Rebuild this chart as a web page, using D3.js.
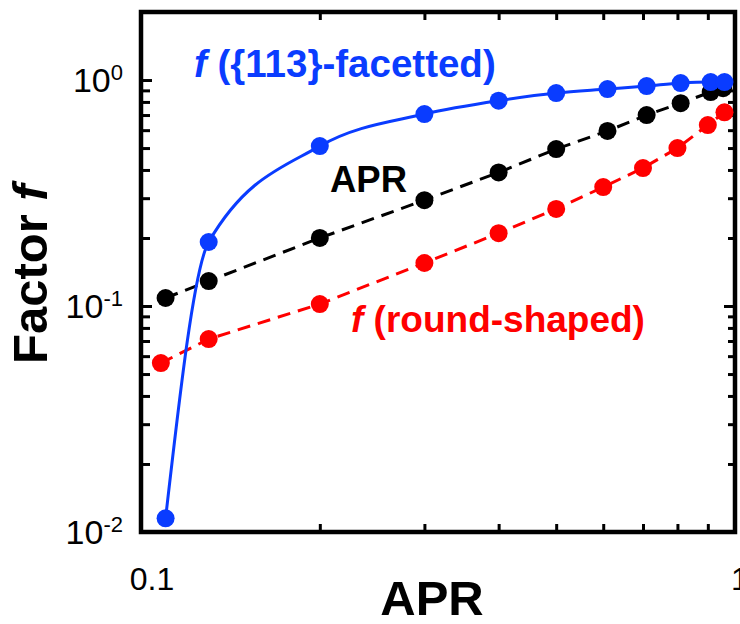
<!DOCTYPE html>
<html>
<head>
<meta charset="utf-8">
<script src="https://cdn.jsdelivr.net/npm/d3@7"></script>
<style>
  body { margin: 0; background: #fff; }
  svg { display: block; font-family: "Liberation Sans", Arial, sans-serif; }
</style>
</head>
<body>
<div id="chart"></div>
<script>
var width = 740, height = 624;

// APR values
const facettedX = [0.11, 0.13, 0.2, 0.3, 0.4, 0.5, 0.61, 0.71, 0.81, 0.91, 0.96];
const facettedY = [0.0115, 0.192, 0.51, 0.707, 0.81, 0.876, 0.912, 0.94, 0.97, 0.98, 0.98];

const aprX = [0.11, 0.13, 0.2, 0.3, 0.4, 0.5, 0.61, 0.71, 0.81, 0.91, 0.955];
const aprY = [0.1085, 0.129, 0.2, 0.294, 0.39, 0.495, 0.595, 0.70, 0.79, 0.885, 0.92];

const roundX = [0.108, 0.13, 0.2, 0.3, 0.4, 0.5, 0.6, 0.7, 0.8, 0.9, 0.96];
const roundY = [0.0559, 0.0714, 0.102, 0.155, 0.21, 0.269, 0.336, 0.408, 0.50, 0.632, 0.72];

const xTickLabels = [{v: 0.1, t: "0.1"}, {v: 1, t: "1"}];
const yTickLabels = [{v: 0.01, e: "-2"}, {v: 0.1, e: "-1"}, {v: 1, e: "0"}];

const blue = "#0a3cff", red = "#ff0000", black = "#000";

const x = d3.scaleLog().domain([0.1, 1]).range([141, 735]);
const y = d3.scaleLog().domain([0.01, 2]).range([532, 12]);

const svg = d3.select("#chart").append("svg")
    .attr("width", width)
    .attr("height", height);

// ticks, all pointing inward
var xMinor = d3.range(2, 10).map(function(d) { return d / 10; });
var yMajor = [0.01, 0.1, 1];
var yMinor = [];
[0.01, 0.1, 1].forEach(function(dec) {
  d3.range(2, 10).forEach(function(k) { if (k * dec <= 2) yMinor.push(k * dec); });
});

function ticks(axis, size) {
  return function(g) {
    g.call(axis.tickSize(size).tickFormat(""));
    g.select(".domain").remove();
    g.selectAll(".tick line").attr("stroke", black).attr("stroke-width", 3);
  };
}

svg.append("g").attr("transform", "translate(0,532)")
    .call(ticks(d3.axisBottom(x).tickValues(xMinor), -8));
svg.append("g").attr("transform", "translate(0,12)")
    .call(ticks(d3.axisTop(x).tickValues(xMinor), -8));
svg.append("g").attr("transform", "translate(141,0)")
    .call(ticks(d3.axisLeft(y).tickValues(yMajor), -11));
svg.append("g").attr("transform", "translate(141,0)")
    .call(ticks(d3.axisLeft(y).tickValues(yMinor), -9));
svg.append("g").attr("transform", "translate(735,0)")
    .call(ticks(d3.axisRight(y).tickValues(yMajor), -11));
svg.append("g").attr("transform", "translate(735,0)")
    .call(ticks(d3.axisRight(y).tickValues(yMinor), -7));

// frame
svg.append("rect")
    .attr("x", x(0.1)).attr("y", y(2))
    .attr("width", x(1) - x(0.1)).attr("height", y(0.01) - y(2))
    .attr("fill", "none")
    .attr("stroke", black)
    .attr("stroke-width", 4.5);

// tick labels
svg.selectAll(".xlab").data(xTickLabels).join("text")
    .attr("class", "xlab")
    .attr("x", function(d) { return d.v === 1 ? x(d.v) - 4 : x(d.v) + 11; })
    .attr("y", 590)
    .attr("text-anchor", function(d) { return d.v === 1 ? "start" : "middle"; })
    .attr("font-size", 32)
    .text(function(d) { return d.t; });

var yl = svg.selectAll(".ylab").data(yTickLabels).join("text")
    .attr("class", "ylab")
    .attr("x", 123)
    .attr("y", function(d) { return y(d.v) + 12; })
    .attr("text-anchor", "end")
    .attr("font-size", 34);
yl.append("tspan").text("10");
yl.append("tspan").attr("dy", -12).attr("font-size", 22).text(function(d) { return d.e; });

// axis titles
svg.append("text")
    .attr("x", 432).attr("y", 615)
    .attr("text-anchor", "middle")
    .attr("font-size", 49).attr("font-weight", "bold")
    .text("APR");

var yt = svg.append("text")
    .attr("transform", "translate(47,364) rotate(-90)")
    .attr("text-anchor", "start")
    .attr("font-size", 49).attr("font-weight", "bold");
yt.append("tspan").text("Factor ");
yt.append("tspan").attr("font-style", "italic").text("f");

// series
function series(xs, ys, color, dashed, curve) {
  var pts = xs.map(function(v, i) { return [v, ys[i]]; });
  var line = d3.line()
      .x(function(d) { return x(d[0]); })
      .y(function(d) { return y(d[1]); })
      .curve(curve);
  svg.append("path")
      .datum(pts)
      .attr("d", line)
      .attr("fill", "none")
      .attr("stroke", color)
      .attr("stroke-width", 3)
      .attr("stroke-dasharray", dashed ? "13,8" : null);
  svg.append("g").selectAll("circle")
      .data(pts)
      .join("circle")
      .attr("cx", function(d) { return x(d[0]); })
      .attr("cy", function(d) { return y(d[1]); })
      .attr("r", 9)
      .attr("fill", color);
}

series(roundX, roundY, red, true, d3.curveLinear);
series(aprX, aprY, black, true, d3.curveLinear);
series(facettedX, facettedY, blue, false, d3.curveMonotoneX);

// annotations
function label(xp, yp, color, size, rest) {
  var t = svg.append("text")
      .attr("x", xp).attr("y", yp)
      .attr("font-size", size).attr("font-weight", "bold")
      .attr("fill", color);
  if (rest.f) t.append("tspan").attr("font-style", "italic").text("f ");
  t.append("tspan").text(rest.text);
}

label(194, 77, blue, 38.5, {f: true, text: "({113}-facetted)"});
label(330, 192, black, 36.5, {f: false, text: "APR"});
label(351, 332, red, 37, {f: true, text: "(round-shaped)"});
</script>
</body>
</html>
